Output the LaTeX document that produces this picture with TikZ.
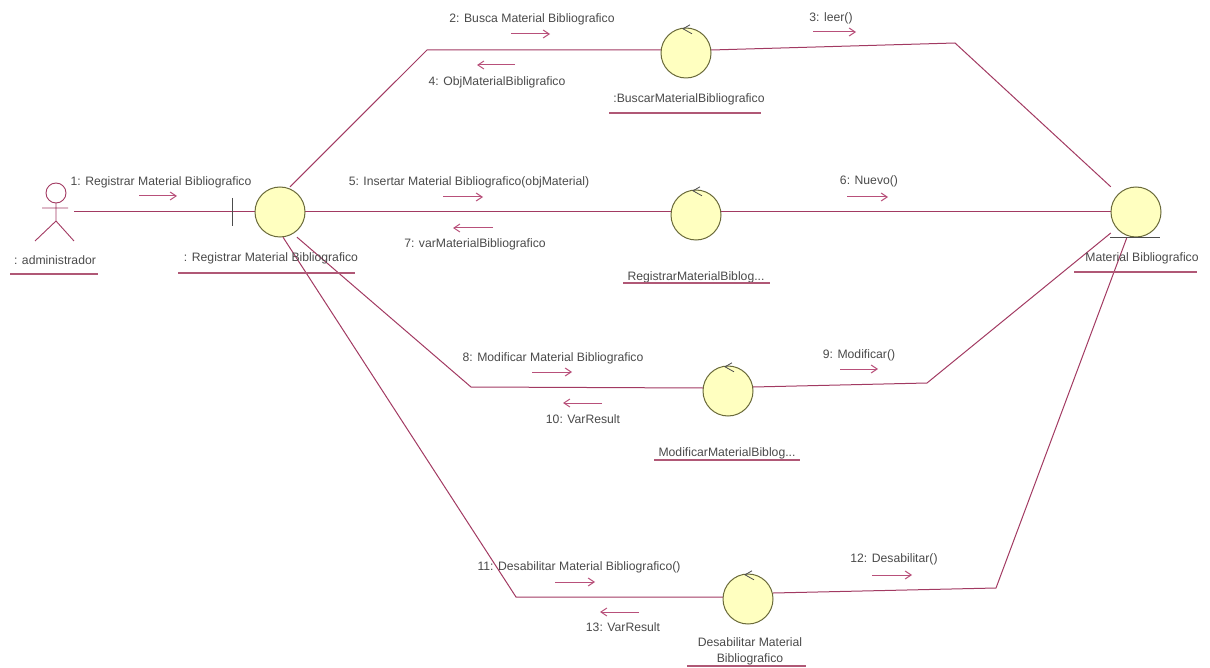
\documentclass[tikz,border=0pt]{standalone}
\usepackage{fontspec}
\setmainfont{Liberation Sans}
\usetikzlibrary{arrows.meta}
\definecolor{uline}{HTML}{A23A62}
\definecolor{urule}{HTML}{B05876}
\definecolor{umsg}{HTML}{B8507A}
\definecolor{ufill}{HTML}{FFFFC0}
\definecolor{uedge}{HTML}{6A6A3A}
\definecolor{utext}{HTML}{4A4A4A}
\tikzset{
  objbox/.style={rectangle,minimum size=50pt,inner sep=0pt},
  circ/.style={draw=uedge,fill=ufill,line width=1pt},
  link/.style={draw=uline,line width=1pt},
  msg/.style={draw=umsg,line width=1pt,-{Straight Barb[length=6pt,width=8pt]}},
  lab/.style={font=\fontsize{12.2}{14}\selectfont,text=utext,inner sep=0pt},
  namerule/.style={draw=urule,line width=1.1pt},
  glyph/.style={draw=uline,line width=0.9pt},
  graybar/.style={draw=black!70,line width=1pt}
}
\begin{document}
\begin{tikzpicture}[x=1pt,y=-1pt]
\useasboundingbox (0,0) rectangle (1210,668);
% objects (a square around each circle: connectors stop at its border)
\node[objbox] (bd) at (280,212) {};
\node[objbox] (bus) at (686,53) {};
\node[objbox] (reg) at (696,215) {};
\node[objbox] (mod) at (728,391) {};
\node[objbox] (des) at (748,599) {};
\node[objbox] (ent) at (1136,212) {};
% corners
\coordinate (actorend) at (74,212);
\coordinate (c1) at (427,50);
\coordinate (c2) at (955,43);
\coordinate (c3) at (471,387);
\coordinate (c4) at (927,383);
\coordinate (c5) at (516,597);
\coordinate (c6) at (996,588);
% connectors
\draw[link] (actorend) -- (bd.west);
\draw[link] ([shift={(10,0)}]bd.north) -- (c1) -- ([shift={(0,-3)}]bus.west);
\draw[link] ([shift={(0,-3)}]bus.east) -- (c2) -- (ent.north west);
\draw[link] (bd.east) -- ([shift={(0,-3)}]reg.west);
\draw[link] ([shift={(0,-3)}]reg.east) -- (ent.west);
\draw[link] ([shift={(17,0)}]bd.south) -- (c3) -- ([shift={(0,-3)}]mod.west);
\draw[link] ([shift={(0,-4)}]mod.east) -- (c4) -- ([shift={(0,21)}]ent.west);
\draw[link] ([shift={(3,0)}]bd.south) -- (c5) -- ([shift={(0,-2)}]des.west);
\draw[link] ([shift={(0,-6)}]des.east) -- (c6) -- ([shift={(-9,0)}]ent.south);
% circles
\foreach \n in {bd,bus,reg,mod,des,ent}{
  \draw[circ] (\n.center) circle (25);
}
% actor
\draw[glyph] (56,193) circle (10);
\draw[glyph] (42,208) -- (68,208) (56,203) -- (56,221) (35,241) -- (56,221) -- (74,241);
% boundary bar
\draw[graybar] (232,198) -- (232,226);
% entity bar
\draw[graybar] (1110,238) -- (1160,238);
% control arrowheads
\foreach \n in {bus,reg,mod,des}{
  \draw[graybar,line width=0.8pt] ([shift={(4,-3)}]\n.north) -- ([shift={(-3,1)}]\n.north) -- ([shift={(6,6)}]\n.north);
}
% message arrows
\draw[msg] (139,196) -- (177,196);
\draw[msg] (511,34) -- (550,34);
\draw[msg] (813,32) -- (856,32);
\draw[msg] (515,65) -- (477,65);
\draw[msg] (443,197) -- (483,197);
\draw[msg] (847,197) -- (888,197);
\draw[msg] (493,228) -- (453,228);
\draw[msg] (532,372) -- (572,372);
\draw[msg] (840,369) -- (878,369);
\draw[msg] (602,403) -- (563,403);
\draw[msg] (555,582) -- (595,582);
\draw[msg] (872,575) -- (912,575);
\draw[msg] (639,612) -- (600,612);
% message labels
\node[lab] (m1) at (161,182) {1: Registrar Material Bibliografico};
\node[lab] (m2) at (532,19) {2: Busca Material Bibliografico};
\node[lab] (m3) at (831,18) {3: leer()};
\node[lab] (m4) at (497,82) {4: ObjMaterialBibligrafico};
\node[lab] (m5) at (469,182) {5: Insertar Material Bibliografico(objMaterial)};
\node[lab] (m6) at (869,181) {6: Nuevo()};
\node[lab] (m7) at (475,244) {7: varMaterialBibliografico};
\node[lab] (m8) at (553,358) {8: Modificar Material Bibliografico};
\node[lab] (m9) at (859,355) {9: Modificar()};
\node[lab] (m10) at (583,419) {10: VarResult};
\node[lab] (m11) at (579,567) {11: Desabilitar Material Bibliografico()};
\node[lab] (m12) at (894,559) {12: Desabilitar()};
\node[lab] (m13) at (623,627) {13: VarResult};
% object names
\node[lab] (nA) at (55,260) {: administrador};
\node[lab] (nB) at (271,258) {: Registrar Material Bibliografico};
\node[lab] (nC) at (689,99) {:BuscarMaterialBibliografico};
\node[lab] (nD) at (696,277) {RegistrarMaterialBiblog...};
\node[lab] (nE) at (727,453) {ModificarMaterialBiblog...};
\node[lab,align=center] (nF) at (750,651) {Desabilitar Material\\[2pt]Bibliografico};
\node[lab] (nG) at (1142,258) {Material Bibliografico};
% underlines
\draw[namerule] (10,274) -- (98,274);
\draw[namerule] (178,273) -- (355,273);
\draw[namerule] (609,113) -- (761,113);
\draw[namerule] (623,283) -- (770,283);
\draw[namerule] (654,460) -- (800,460);
\draw[namerule] (687,666) -- (806,666);
\draw[namerule] (1074,272) -- (1197,272);
\end{tikzpicture}
\end{document}
